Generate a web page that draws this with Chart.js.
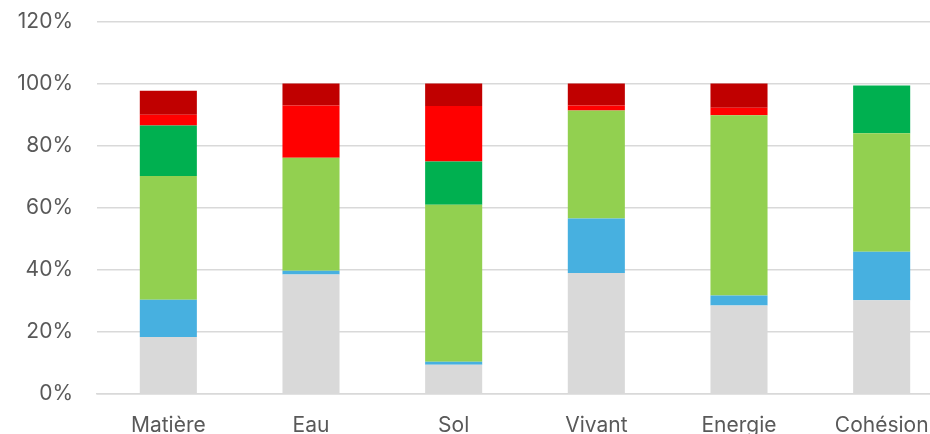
<!DOCTYPE html>
<html>
<head>
<meta charset="utf-8">
<script src="https://cdn.jsdelivr.net/npm/chart.js@4.4.1/dist/chart.umd.min.js"></script>
<style>
html,body{margin:0;padding:0;background:#fff;overflow:hidden;}
#wrap{position:relative;width:953px;height:434px;}
</style>
</head>
<body>
<div id="wrap"><canvas id="c"></canvas></div>
<script>
const categories = ["Matière", "Eau", "Sol", "Vivant", "Energie", "Cohésion"];
const grisValues = [18.4, 38.5, 9.4, 39.0, 28.5, 30.2];
const bleuValues = [12.0, 1.2, 1.0, 17.5, 3.2, 15.6];
const vertClairValues = [39.8, 36.4, 50.6, 34.8, 58.1, 38.2];
const vertFonceValues = [16.3, 0, 13.9, 0, 0, 15.4];
const rougeValues = [3.5, 16.8, 17.9, 1.6, 2.4, 0];
const rougeFonceValues = [7.7, 7.1, 7.2, 7.1, 7.8, 0];
const yTicks = [0, 20, 40, 60, 80, 100, 120];

const fontFam = "Inter, 'Open Sans', sans-serif";
const mk = (label, data, color) => ({label, data, backgroundColor: color, borderWidth: 0, barPercentage: 1, categoryPercentage: 0.4});

new Chart(document.getElementById('c'), {
  type: 'bar',
  data: {
    labels: categories,
    datasets: [
      mk('Gris', grisValues, '#D9D9D9'),
      mk('Bleu', bleuValues, '#47B0E0'),
      mk('Vert clair', vertClairValues, '#92D050'),
      mk('Vert foncé', vertFonceValues, '#00B050'),
      mk('Rouge', rougeValues, '#FF0000'),
      mk('Rouge foncé', rougeFonceValues, '#C00000')
    ]
  },
  options: {
    responsive: true,
    maintainAspectRatio: false,
    animation: false,
    layout: {padding: {top: 21.5, right: 0, left: 0, bottom: 0}},
    plugins: {legend: {display: false}, tooltip: {enabled: false}},
    scales: {
      x: {
        stacked: true,
        grid: {display: false, drawTicks: false},
        border: {display: true, color: '#D9D9D9', width: 1.5},
        ticks: {color: '#595959', font: {family: fontFam, size: 21}, padding: 19, maxRotation: 0},
        afterFit: s => { s.height = 40; s.paddingLeft = 0; s.paddingRight = 0; }
      },
      y: {
        stacked: true,
        min: 0, max: 120,
        afterBuildTicks: s => { s.ticks = yTicks.map(v => ({value: v})); },
        grid: {color: '#D9D9D9', lineWidth: 1.5, drawTicks: false},
        border: {display: false},
        ticks: {color: '#595959', font: {family: fontFam, size: 21}, padding: 24, callback: v => v + '%'},
        afterFit: s => { s.width = 97; s.paddingTop = 0; s.paddingBottom = 0; }
      }
    }
  }
});
</script>
</body>
</html>
